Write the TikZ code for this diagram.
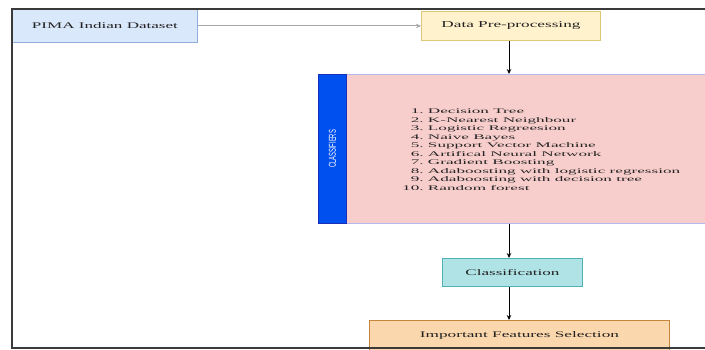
\documentclass[tikz,border=0pt]{standalone}
\usepackage{fontspec}
\setmainfont{Liberation Serif}
\setsansfont{Liberation Sans}
\usepackage{graphicx}
\usetikzlibrary{arrows.meta}
\definecolor{pimafill}{HTML}{DAE8FC}
\definecolor{pimadraw}{HTML}{8FAEDC}
\definecolor{dppfill}{HTML}{FFF2CC}
\definecolor{dppdraw}{HTML}{E0C878}
\definecolor{clffill}{HTML}{F8CECC}
\definecolor{clfdraw}{HTML}{B8B8F0}
\definecolor{bandfill}{HTML}{0050EF}
\definecolor{banddraw}{HTML}{1A2FB8}
\definecolor{clsfill}{HTML}{B0E3E6}
\definecolor{clsdraw}{HTML}{4FB0B5}
\definecolor{ifsfill}{HTML}{FAD7AC}
\definecolor{ifsdraw}{HTML}{C8843A}
\definecolor{framec}{HTML}{3A3A3A}
\definecolor{txt}{HTML}{222222}
\begin{document}
\begin{tikzpicture}[x=1pt,y=-1pt,
  box/.style={draw,line width=0.9pt,inner sep=0pt,text=txt,anchor=north west},
  arr/.style={-{Stealth[length=5pt,width=4.5pt]},line width=0.9pt}]
\useasboundingbox (0,0) rectangle (705,350);
\clip (0,0) rectangle (705,350);
\fill[white] (0,0) rectangle (705,350);
\node[box,fill=pimafill,draw=pimadraw,minimum width=185pt,minimum height=33pt] (pima) at (12,9)
  {\resizebox{146pt}{6pt}{PIMA Indian Dataset}};
\node[box,fill=dppfill,draw=dppdraw,minimum width=179pt,minimum height=29pt] (dpp) at (421,11)
  {\resizebox{139pt}{6pt}{Data Pre-processing}};
\node[box,fill=clffill,draw=clfdraw,minimum width=400pt,minimum height=149pt] (clf) at (318,74) {};
\node[box,fill=bandfill,draw=banddraw,minimum width=28pt,minimum height=149pt] (band) at (318,74) {};
\node[rotate=90,text=white,inner sep=0pt] (bandlbl) at (band.center)
  {\resizebox{38pt}{7pt}{\sffamily CLASSIFIERS}};
\node[anchor=west,inner sep=0pt,text=txt] (list) at (402,150.5)
  {\resizebox*{278pt}{85pt}{\begin{tabular}{@{}r@{\ }l@{}}
  1.&Decision Tree\\
  2.&K-Nearest Neighbour\\
  3.&Logistic Regreesion\\
  4.&Naive Bayes\\
  5.&Support Vector Machine\\
  6.&Artifical Neural Network\\
  7.&Gradient Boosting\\
  8.&Adaboosting with logistic regression\\
  9.&Adaboosting with decision tree\\
  10.&Random forest
  \end{tabular}}};
\node[box,fill=clsfill,draw=clsdraw,minimum width=140pt,minimum height=28pt] (cls) at (442,258)
  {\resizebox{94pt}{6pt}{Classification}};
\node[box,fill=ifsfill,draw=ifsdraw,minimum width=300pt,minimum height=30pt] (ifs) at (369,320)
  {\resizebox{199pt}{6pt}{Important Features Selection}};
\coordinate (ax) at (509,0);
\draw[arr,draw=gray!70] (pima.east) -- (dpp.west);
\draw[arr] (dpp.south -| ax) -- (clf.north -| ax);
\draw[arr] (clf.south -| ax) -- (cls.north -| ax);
\draw[arr] (cls.south -| ax) -- (ifs.north -| ax);
\draw[framec,line width=1.6pt] (706,9) -| (12,348) -- (706,348);
\end{tikzpicture}
\end{document}
